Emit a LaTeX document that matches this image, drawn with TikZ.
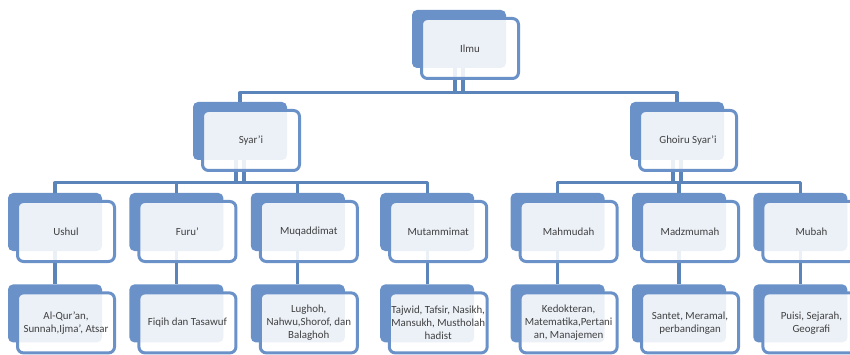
\documentclass[tikz,border=0pt]{standalone}
\usepackage{fontspec}
\setmainfont{Carlito}
\usetikzlibrary{positioning}

\definecolor{boxblue}{RGB}{106,146,201}
\definecolor{lineblue}{RGB}{91,132,186}
\definecolor{txtgray}{RGB}{64,64,64}

\begin{document}
\begin{tikzpicture}[x=1pt,y=-1pt,node distance=33pt and 27pt]
	\tikzstyle{back}=[rectangle,rounded corners=5pt,fill=boxblue,minimum width=94pt,minimum height=58pt,inner sep=0pt]
	\tikzstyle{front}=[rectangle,rounded corners=6pt,draw=boxblue,line width=3pt,fill=white,fill opacity=0.88,text opacity=1,text=txtgray,minimum width=97pt,minimum height=60pt,inner sep=2pt,align=center,font=\fontsize{10.9}{12.9}\selectfont]
	\tikzstyle{conn}=[draw=lineblue,line width=3.2pt,line join=round]
	\tikzstyle{stem}=[draw=lineblue,line width=3.5pt,double=white,double distance=4.5pt]

	\useasboundingbox (0,0) rectangle (850,355);
	\clip (0,0) rectangle (850,355);

	% back boxes
	\node[back] (ilmuB)   at (459,39)  {};
	\node[back] (syariB)  at (240,131) {};
	\node[back] (ghoiruB) at (677,131) {};

	\node[back] (ushulB)  at (55,222)          {};
	\node[back] (furuB)   [right=of ushulB]     {};
	\node[back] (muqB)    [right=of furuB]      {};
	\node[back] (mutB)    [right=35pt of muqB]  {};
	\node[back] (mahB)    [right=36pt of mutB]  {};
	\node[back] (madzB)   [right=of mahB]       {};
	\node[back] (mubahB)  [right=of madzB]      {};

	\node[back] (quranB)  [below=of ushulB] {};
	\node[back] (fiqihB)  [below=of furuB]  {};
	\node[back] (lughohB) [below=of muqB]   {};
	\node[back] (tajwidB) [below=of mutB]   {};
	\node[back] (kedokB)  [below=of mahB]   {};
	\node[back] (santetB) [below=of madzB]  {};
	\node[back] (puisiB)  [below=of mubahB] {};

	% connectors
	\path (syariB.north) ++(0,-9) coordinate (bus0);
	\path (ushulB.north) ++(0,-10) coordinate (bus1);
	\path (mahB.north) ++(0,-10) coordinate (bus2);

	\draw[stem] (ilmuB.south) -- (ilmuB.south |- bus0);
	\draw[stem] (syariB.south) -- (syariB.south |- bus1);
	\draw[stem] (ghoiruB.south) -- (ghoiruB.south |- bus2);

	\draw[conn] (syariB.north) -- (bus0) -| (ghoiruB.north);
	\draw[conn] (ushulB.north) -- (bus1) -| (mutB.north);
	\draw[conn] (furuB.north) -- (furuB.north |- bus1);
	\draw[conn] (muqB.north) -- (muqB.north |- bus1);
	\draw[conn] (mahB.north) -- (bus2) -| (mubahB.north);
	\draw[conn] (madzB.north) -- (madzB.north |- bus2);

	\path
	(ushulB) edge[conn] (quranB)
	(furuB)  edge[conn] (fiqihB)
	(muqB)   edge[conn] (lughohB)
	(mutB)   edge[conn] (tajwidB)
	(mahB)   edge[conn] (kedokB)
	(madzB)  edge[conn] (santetB)
	(mubahB) edge[conn] (puisiB);

	% front boxes
	\node[front,xshift=11pt,yshift=-9.5pt] (ilmu)   at (ilmuB)   {Ilmu};
	\node[front,xshift=11pt,yshift=-9.5pt] (syari)  at (syariB)  {Syar'i};
	\node[front,xshift=11pt,yshift=-9.5pt] (ghoiru) at (ghoiruB) {Ghoiru Syar'i};

	\node[front,xshift=11pt,yshift=-9.5pt] (ushul) at (ushulB)  {Ushul};
	\node[front,xshift=11pt,yshift=-9.5pt] (furu)  at (furuB)   {Furu'};
	\node[front,xshift=11pt,yshift=-9.5pt] (muq)   at (muqB)    {Muqaddimat};
	\node[front,xshift=11pt,yshift=-9.5pt] (mut)   at (mutB)    {Mutammimat};
	\node[front,xshift=11pt,yshift=-9.5pt] (mah)   at (mahB)    {Mahmudah};
	\node[front,xshift=11pt,yshift=-9.5pt] (madz)  at (madzB)   {Madzmumah};
	\node[front,xshift=11pt,yshift=-9.5pt] (mubah) at (mubahB)  {Mubah};

	\node[front,xshift=11pt,yshift=-9.5pt] (quran)  at (quranB)  {Al-Qur'an,\\Sunnah,Ijma', Atsar};
	\node[front,xshift=11pt,yshift=-9.5pt] (fiqih)  at (fiqihB)  {Fiqih dan Tasawuf};
	\node[front,xshift=11pt,yshift=-9.5pt] (lughoh) at (lughohB) {Lughoh,\\Nahwu,Shorof, dan\\Balaghoh};
	\node[front,xshift=11pt,yshift=-9.5pt] (tajwid) at (tajwidB) {Tajwid, Tafsir, Nasikh,\\Mansukh, Mustholah\\hadist};
	\node[front,xshift=11pt,yshift=-9.5pt] (kedok)  at (kedokB)  {Kedokteran,\\Matematika,Pertani\\an, Manajemen};
	\node[front,xshift=11pt,yshift=-9.5pt] (santet) at (santetB) {Santet, Meramal,\\perbandingan};
	\node[front,xshift=11pt,yshift=-9.5pt] (puisi)  at (puisiB)  {Puisi, Sejarah,\\Geografi};

\end{tikzpicture}
\end{document}
